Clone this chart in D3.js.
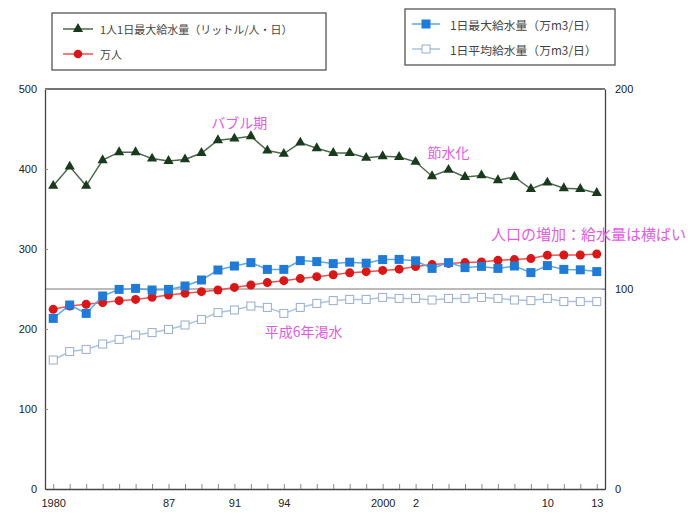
<!DOCTYPE html>
<html><head><meta charset="utf-8">
<script src="https://cdn.jsdelivr.net/npm/d3@7/dist/d3.min.js"></script>
<style>
body{margin:0;background:#fff;}
svg{display:block;font-family:"Noto Sans CJK JP","Noto Sans",sans-serif;}
</style></head>
<body><svg id="c" width="688" height="513"></svg>
<script>
const years = d3.range(1980, 2014);
const perCapitaMax = [379,403,379,411,421,421,413,410,412,420,436,438,441,423,419,433,426,420,420,414,416,415,409,391,399,390,392,386,390,375,383,376,375,370];
const population = [224.6,228.8,231,233,235.4,237,239.6,242.5,244.6,246.7,248.8,252,255,258,260.4,263,265.4,267.8,270.2,271.7,273.2,274.8,278,280.5,282,283,283.9,285.8,286.8,288,292.3,292.5,292.5,293.8];
const dailyMax = [85.3,92,87.8,96.5,99.8,100.3,99.5,99.8,101.5,104.5,109.5,111.5,113.2,109.8,109.8,114.2,113.7,112.7,113.4,112.9,114.7,114.8,114.1,110.3,113.2,110.7,111.3,110.3,111.5,108.2,111.7,109.8,109.6,108.7];
const dailyAvg = [64.5,68.7,69.8,72.5,74.8,77,78.2,79.8,82,84.8,88.2,89.5,91.5,90.8,87.8,90.8,92.8,94.2,94.8,94.8,95.8,95.3,95.3,94.5,95.3,95.3,95.8,95.3,94.5,94.2,95.3,93.7,93.7,93.7];
const leftTicks = [0,100,200,300,400,500];
const rightTicks = [0,100,200];
const xLabelYears = [1980,1987,1991,1994,2000,2002,2010,2013];
const xLabelText = ["1980","87","91","94","2000","2","10","13"];
const legendLeft = ["1人1日最大給水量（リットル/人・日）","万人"];
const legendRight = ["1日最大給水量（万m3/日）","1日平均給水量（万m3/日）"];
const notes = [
  {text:"バブル期", x:1991.3, y:122, size:14},
  {text:"節水化", x:2004.0, y:152, size:14},
  {text:"平成6年渇水", x:1995.2, y:331, size:14},
  {text:"人口の増加：給水量は横ばい", x:2012.5, y:233, size:15}
];

const svg = d3.select("#c");
const x = d3.scaleLinear().domain([1979.5, 2013.5]).range([45, 605]);
const yL = d3.scaleLinear().domain([0, 500]).range([489, 89]);
const yR = d3.scaleLinear().domain([0, 200]).range([489, 89]);
const axisCol = "#444";

// reference line at right-axis 100
svg.append("line").attr("x1", x.range()[0]).attr("x2", x.range()[1])
  .attr("y1", yR(100)).attr("y2", yR(100)).attr("stroke", "#777").attr("stroke-width", 1);
// top frame
svg.append("line").attr("x1", 45).attr("x2", 605).attr("y1", yL(500)).attr("y2", yL(500))
  .attr("stroke", axisCol).attr("stroke-width", 1.3);

function styleAxis(g){
  g.select(".domain").attr("stroke", axisCol).attr("stroke-width", 1.3);
  g.selectAll(".tick line").attr("stroke", "#888");
  g.selectAll("text").attr("fill", "#222").style("font-size", "11px").style("font-family", "Liberation Sans, Arial, sans-serif");
}
svg.append("g").attr("transform", "translate(45,0)")
  .call(d3.axisLeft(yL).tickValues(leftTicks).tickSize(-3).tickPadding(8).tickSizeOuter(0))
  .call(styleAxis);
svg.append("g").attr("transform", "translate(605,0)")
  .call(d3.axisRight(yR).tickValues(rightTicks).tickSize(-3).tickPadding(10).tickSizeOuter(0))
  .call(styleAxis);
svg.append("g").attr("transform", "translate(0,489)")
  .call(d3.axisBottom(x).tickValues(years).tickSize(-5).tickPadding(10).tickSizeOuter(0)
    .tickFormat(d => { const i = xLabelYears.indexOf(d); return i >= 0 ? xLabelText[i] : ""; }))
  .call(styleAxis);

const line = (ys, data) => d3.line().x((d,i) => x(years[i])).y(d => ys(d))(data);

// daily average (open squares)
svg.append("path").attr("d", line(yR, dailyAvg)).attr("fill","none").attr("stroke","#a8c4e4").attr("stroke-width",1.5);
svg.append("g").selectAll("rect").data(dailyAvg).join("rect")
  .attr("x", (d,i) => x(years[i]) - 4).attr("y", d => yR(d) - 4).attr("width", 8).attr("height", 8)
  .attr("fill", "#fff").attr("stroke", "#9aaccc").attr("stroke-width", 1);

// population (red circles)
svg.append("path").attr("d", line(yL, population)).attr("fill","none").attr("stroke","#f05050").attr("stroke-width",1.5);
svg.append("g").selectAll("circle").data(population).join("circle")
  .attr("cx", (d,i) => x(years[i])).attr("cy", d => yL(d)).attr("r", 4.5).attr("fill", "#d81818");

// daily max (blue squares)
svg.append("path").attr("d", line(yR, dailyMax)).attr("fill","none").attr("stroke","#5aa8e8").attr("stroke-width",1.5);
svg.append("g").selectAll("rect").data(dailyMax).join("rect")
  .attr("x", (d,i) => x(years[i]) - 4.5).attr("y", d => yR(d) - 4.5).attr("width", 9).attr("height", 9)
  .attr("fill", "#1f7bd6");

// per capita max (green triangles)
svg.append("path").attr("d", line(yL, perCapitaMax)).attr("fill","none").attr("stroke","#4a6a4a").attr("stroke-width",1.5);
const tri = d3.symbol().type(d3.symbolTriangle).size(45);
svg.append("g").selectAll("path").data(perCapitaMax).join("path")
  .attr("d", tri).attr("transform", (d,i) => `translate(${x(years[i])},${yL(d)})`)
  .attr("fill", "#1a3a1e");

// annotations
svg.append("g").selectAll("text").data(notes).join("text")
  .attr("x", d => x(d.x)).attr("y", d => d.y).attr("text-anchor", "middle").attr("dominant-baseline", "central")
  .attr("fill", "#e25ce2").style("font-size", d => d.size + "px").text(d => d.text);

// legends
function legendBox(bx, by, bw, bh){
  svg.append("rect").attr("x", bx).attr("y", by).attr("width", bw).attr("height", bh)
    .attr("fill", "#fff").attr("stroke", "#555").attr("stroke-width", 1.3);
}
legendBox(52, 13, 274, 57);
legendBox(405, 9, 210, 56);
const lg = svg.append("g").style("font-size", "11px").attr("fill", "#444");
// left legend rows
[[29, "#4a6a4a"], [54, "#f05050"]].forEach(([yy, c], i) => {
  lg.append("line").attr("x1", 63).attr("x2", 93).attr("y1", yy).attr("y2", yy).attr("stroke", c).attr("stroke-width", 1.5);
  lg.append("text").attr("x", 100).attr("y", yy).attr("dominant-baseline", "central").text(legendLeft[i]);
});
lg.append("path").attr("d", tri).attr("transform", "translate(78,29)").attr("fill", "#1a3a1e");
lg.append("circle").attr("cx", 78).attr("cy", 54).attr("r", 4.3).attr("fill", "#d81818");
// right legend rows
[[24, "#5aa8e8"], [49, "#a8c4e4"]].forEach(([yy, c], i) => {
  lg.append("line").attr("x1", 412).attr("x2", 440).attr("y1", yy).attr("y2", yy).attr("stroke", c).attr("stroke-width", 1.5);
  lg.append("text").attr("x", 450).attr("y", yy).attr("dominant-baseline", "central")
    .style("font-size", "11.8px").text(legendRight[i]);
});
lg.append("rect").attr("x", 421.5).attr("y", 19.5).attr("width", 9).attr("height", 9).attr("fill", "#1f7bd6");
lg.append("rect").attr("x", 422).attr("y", 45).attr("width", 8).attr("height", 8).attr("fill", "#fff").attr("stroke", "#9aaccc");
</script></body></html>
